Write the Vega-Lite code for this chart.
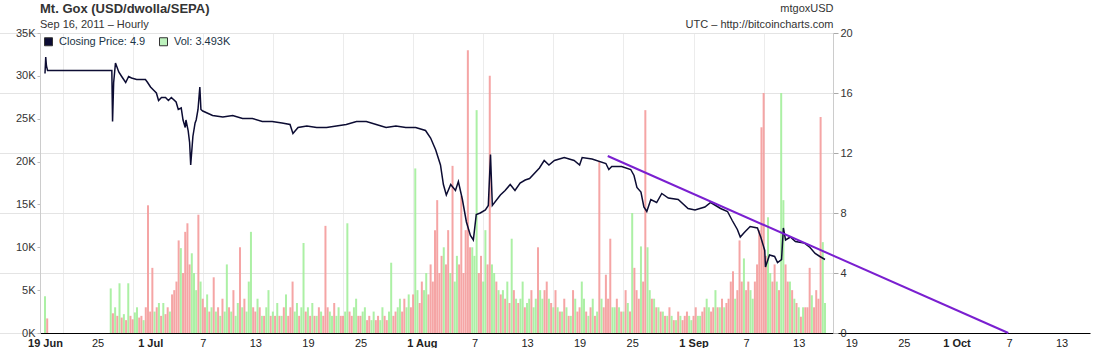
{
  "$schema": "https://vega.github.io/schema/vega-lite/v6.json",
  "width": 793,
  "height": 300,
  "autosize": {"type": "none"},
  "padding": {"left": 40, "top": 33, "right": 273, "bottom": 15},
  "background": "white",
  "config": {
    "font": "Liberation Sans",
    "view": {"stroke": "#d4d4d4"},
    "axis": {"labelFont": "Liberation Sans", "titleFont": "Liberation Sans"}
  },
  "title": {
    "text": "Mt. Gox (USD/dwolla/SEPA)",
    "subtitle": "Sep 16, 2011 – Hourly",
    "anchor": "start",
    "frame": "group",
    "fontSize": 13,
    "fontWeight": "bold",
    "color": "#333333",
    "subtitleFontSize": 11,
    "subtitleColor": "#333333",
    "subtitlePadding": 3,
    "offset": 2,
    "dy": 30
  },
  "datasets": {
    "vol": [
      {"t":"2011-06-19T00:00","v":4.3,"d":"u"},{"t":"2011-06-19T06:00","v":1.7,"d":"d"},
      {"t":"2011-06-26T12:00","v":5.2,"d":"u"},{"t":"2011-06-26T18:00","v":2.3,"d":"d"},
      {"t":"2011-06-27T00:00","v":3.0,"d":"u"},{"t":"2011-06-27T06:00","v":2.0,"d":"d"},{"t":"2011-06-27T12:00","v":5.8,"d":"u"},{"t":"2011-06-27T18:00","v":1.8,"d":"d"},
      {"t":"2011-06-28T00:00","v":2.2,"d":"u"},{"t":"2011-06-28T06:00","v":1.5,"d":"d"},{"t":"2011-06-28T12:00","v":5.8,"d":"u"},{"t":"2011-06-28T18:00","v":2.0,"d":"d"},
      {"t":"2011-06-29T00:00","v":1.6,"d":"d"},{"t":"2011-06-29T06:00","v":2.4,"d":"u"},{"t":"2011-06-29T12:00","v":3.0,"d":"u"},{"t":"2011-06-29T18:00","v":1.8,"d":"d"},
      {"t":"2011-06-30T00:00","v":2.0,"d":"d"},{"t":"2011-06-30T06:00","v":1.5,"d":"u"},{"t":"2011-06-30T12:00","v":3.0,"d":"d"},{"t":"2011-06-30T18:00","v":14.9,"d":"d"},
      {"t":"2011-07-01T00:00","v":2.5,"d":"d"},{"t":"2011-07-01T06:00","v":7.6,"d":"d"},{"t":"2011-07-01T12:00","v":2.5,"d":"u"},{"t":"2011-07-01T18:00","v":3.0,"d":"d"},
      {"t":"2011-07-02T00:00","v":3.5,"d":"u"},{"t":"2011-07-02T06:00","v":2.0,"d":"d"},{"t":"2011-07-02T12:00","v":3.5,"d":"u"},{"t":"2011-07-02T18:00","v":2.2,"d":"d"},
      {"t":"2011-07-03T00:00","v":3.0,"d":"d"},{"t":"2011-07-03T06:00","v":2.5,"d":"u"},{"t":"2011-07-03T12:00","v":4.5,"d":"d"},{"t":"2011-07-03T18:00","v":5.0,"d":"d"},
      {"t":"2011-07-04T00:00","v":6.0,"d":"d"},{"t":"2011-07-04T06:00","v":10.8,"d":"d"},{"t":"2011-07-04T12:00","v":9.9,"d":"u"},{"t":"2011-07-04T18:00","v":7.0,"d":"d"},
      {"t":"2011-07-05T00:00","v":11.8,"d":"d"},{"t":"2011-07-05T06:00","v":12.8,"d":"d"},{"t":"2011-07-05T12:00","v":8.0,"d":"d"},{"t":"2011-07-05T18:00","v":9.3,"d":"u"},
      {"t":"2011-07-06T00:00","v":7.0,"d":"u"},{"t":"2011-07-06T06:00","v":5.0,"d":"u"},{"t":"2011-07-06T12:00","v":13.8,"d":"d"},{"t":"2011-07-06T18:00","v":6.0,"d":"u"},
      {"t":"2011-07-07T00:00","v":4.0,"d":"d"},{"t":"2011-07-07T06:00","v":3.0,"d":"d"},{"t":"2011-07-07T12:00","v":4.5,"d":"u"},{"t":"2011-07-07T18:00","v":2.5,"d":"d"},
      {"t":"2011-07-08T00:00","v":3.0,"d":"u"},{"t":"2011-07-08T06:00","v":6.5,"d":"d"},{"t":"2011-07-08T12:00","v":2.5,"d":"u"},{"t":"2011-07-08T18:00","v":3.0,"d":"d"},
      {"t":"2011-07-09T00:00","v":2.0,"d":"u"},{"t":"2011-07-09T06:00","v":4.0,"d":"d"},{"t":"2011-07-09T12:00","v":2.5,"d":"u"},{"t":"2011-07-09T18:00","v":8.0,"d":"u"},
      {"t":"2011-07-10T00:00","v":3.0,"d":"d"},{"t":"2011-07-10T06:00","v":2.5,"d":"u"},{"t":"2011-07-10T12:00","v":5.0,"d":"d"},{"t":"2011-07-10T18:00","v":2.0,"d":"u"},
      {"t":"2011-07-11T00:00","v":3.5,"d":"u"},{"t":"2011-07-11T06:00","v":10.0,"d":"d"},{"t":"2011-07-11T12:00","v":3.0,"d":"u"},{"t":"2011-07-11T18:00","v":4.0,"d":"d"},
      {"t":"2011-07-12T00:00","v":2.5,"d":"u"},{"t":"2011-07-12T06:00","v":6.0,"d":"u"},{"t":"2011-07-12T12:00","v":11.8,"d":"u"},{"t":"2011-07-12T18:00","v":3.0,"d":"d"},
      {"t":"2011-07-13T00:00","v":2.5,"d":"d"},{"t":"2011-07-13T06:00","v":4.0,"d":"u"},{"t":"2011-07-13T12:00","v":3.0,"d":"d"},{"t":"2011-07-13T18:00","v":2.0,"d":"u"},
      {"t":"2011-07-14T00:00","v":2.0,"d":"d"},{"t":"2011-07-14T06:00","v":3.0,"d":"u"},{"t":"2011-07-14T12:00","v":5.0,"d":"u"},{"t":"2011-07-14T18:00","v":2.0,"d":"d"},
      {"t":"2011-07-15T00:00","v":2.5,"d":"u"},{"t":"2011-07-15T06:00","v":2.0,"d":"d"},{"t":"2011-07-15T12:00","v":3.5,"d":"u"},{"t":"2011-07-15T18:00","v":2.0,"d":"d"},
      {"t":"2011-07-16T00:00","v":2.0,"d":"u"},{"t":"2011-07-16T06:00","v":3.0,"d":"d"},{"t":"2011-07-16T12:00","v":4.5,"d":"u"},{"t":"2011-07-16T18:00","v":2.0,"d":"d"},
      {"t":"2011-07-17T00:00","v":3.0,"d":"d"},{"t":"2011-07-17T06:00","v":6.0,"d":"d"},{"t":"2011-07-17T12:00","v":2.5,"d":"u"},{"t":"2011-07-17T18:00","v":3.5,"d":"u"},
      {"t":"2011-07-18T00:00","v":2.0,"d":"d"},{"t":"2011-07-18T06:00","v":3.0,"d":"u"},{"t":"2011-07-18T12:00","v":10.5,"d":"u"},{"t":"2011-07-18T18:00","v":2.5,"d":"d"},
      {"t":"2011-07-19T00:00","v":3.0,"d":"u"},{"t":"2011-07-19T06:00","v":2.0,"d":"d"},{"t":"2011-07-19T12:00","v":3.5,"d":"u"},{"t":"2011-07-19T18:00","v":2.0,"d":"d"},
      {"t":"2011-07-20T00:00","v":2.0,"d":"u"},{"t":"2011-07-20T06:00","v":3.0,"d":"d"},{"t":"2011-07-20T12:00","v":2.5,"d":"u"},{"t":"2011-07-20T18:00","v":2.0,"d":"d"},
      {"t":"2011-07-21T00:00","v":12.5,"d":"d"},{"t":"2011-07-21T06:00","v":3.0,"d":"d"},{"t":"2011-07-21T12:00","v":2.5,"d":"u"},{"t":"2011-07-21T18:00","v":2.0,"d":"u"},
      {"t":"2011-07-22T00:00","v":3.5,"d":"d"},{"t":"2011-07-22T06:00","v":2.0,"d":"u"},{"t":"2011-07-22T12:00","v":3.0,"d":"u"},{"t":"2011-07-22T18:00","v":2.0,"d":"d"},
      {"t":"2011-07-23T00:00","v":2.0,"d":"d"},{"t":"2011-07-23T06:00","v":2.5,"d":"u"},{"t":"2011-07-23T12:00","v":12.8,"d":"u"},{"t":"2011-07-23T18:00","v":2.5,"d":"d"},
      {"t":"2011-07-24T00:00","v":2.0,"d":"d"},{"t":"2011-07-24T06:00","v":3.0,"d":"u"},{"t":"2011-07-24T12:00","v":4.0,"d":"u"},{"t":"2011-07-24T18:00","v":2.0,"d":"d"},
      {"t":"2011-07-25T00:00","v":2.0,"d":"d"},{"t":"2011-07-25T06:00","v":2.5,"d":"u"},{"t":"2011-07-25T12:00","v":3.0,"d":"u"},{"t":"2011-07-25T18:00","v":1.5,"d":"d"},
      {"t":"2011-07-26T00:00","v":2.0,"d":"d"},{"t":"2011-07-26T06:00","v":1.5,"d":"u"},{"t":"2011-07-26T12:00","v":2.5,"d":"u"},{"t":"2011-07-26T18:00","v":1.5,"d":"d"},
      {"t":"2011-07-27T00:00","v":2.0,"d":"d"},{"t":"2011-07-27T06:00","v":1.5,"d":"u"},{"t":"2011-07-27T12:00","v":3.0,"d":"u"},{"t":"2011-07-27T18:00","v":2.0,"d":"d"},
      {"t":"2011-07-28T00:00","v":1.5,"d":"d"},{"t":"2011-07-28T06:00","v":2.5,"d":"u"},{"t":"2011-07-28T12:00","v":8.2,"d":"u"},{"t":"2011-07-28T18:00","v":2.0,"d":"d"},
      {"t":"2011-07-29T00:00","v":2.5,"d":"d"},{"t":"2011-07-29T06:00","v":3.0,"d":"u"},{"t":"2011-07-29T12:00","v":4.0,"d":"u"},{"t":"2011-07-29T18:00","v":2.5,"d":"d"},
      {"t":"2011-07-30T00:00","v":4.0,"d":"d"},{"t":"2011-07-30T06:00","v":3.0,"d":"u"},{"t":"2011-07-30T12:00","v":4.5,"d":"u"},{"t":"2011-07-30T18:00","v":3.0,"d":"d"},
      {"t":"2011-07-31T00:00","v":4.5,"d":"d"},{"t":"2011-07-31T06:00","v":19.2,"d":"u"},{"t":"2011-07-31T12:00","v":5.0,"d":"u"},{"t":"2011-07-31T18:00","v":3.5,"d":"d"},
      {"t":"2011-08-01T00:00","v":6.0,"d":"d"},{"t":"2011-08-01T06:00","v":5.0,"d":"u"},{"t":"2011-08-01T12:00","v":7.0,"d":"u"},{"t":"2011-08-01T18:00","v":4.5,"d":"d"},
      {"t":"2011-08-02T00:00","v":8.0,"d":"d"},{"t":"2011-08-02T06:00","v":6.0,"d":"d"},{"t":"2011-08-02T12:00","v":12.0,"d":"d"},{"t":"2011-08-02T18:00","v":15.5,"d":"d"},
      {"t":"2011-08-03T00:00","v":7.0,"d":"d"},{"t":"2011-08-03T06:00","v":9.0,"d":"d"},{"t":"2011-08-03T12:00","v":10.0,"d":"u"},{"t":"2011-08-03T18:00","v":8.0,"d":"d"},
      {"t":"2011-08-04T00:00","v":12.0,"d":"d"},{"t":"2011-08-04T06:00","v":7.0,"d":"u"},{"t":"2011-08-04T12:00","v":19.5,"d":"d"},{"t":"2011-08-04T18:00","v":6.0,"d":"u"},
      {"t":"2011-08-05T00:00","v":9.0,"d":"u"},{"t":"2011-08-05T06:00","v":8.0,"d":"d"},{"t":"2011-08-05T12:00","v":16.0,"d":"d"},{"t":"2011-08-05T18:00","v":7.0,"d":"d"},
      {"t":"2011-08-06T00:00","v":12.0,"d":"d"},{"t":"2011-08-06T06:00","v":33.0,"d":"d"},{"t":"2011-08-06T12:00","v":10.0,"d":"d"},{"t":"2011-08-06T18:00","v":10.0,"d":"u"},
      {"t":"2011-08-07T00:00","v":9.0,"d":"u"},{"t":"2011-08-07T06:00","v":26.0,"d":"u"},{"t":"2011-08-07T12:00","v":7.0,"d":"d"},{"t":"2011-08-07T18:00","v":9.0,"d":"d"},
      {"t":"2011-08-08T00:00","v":6.0,"d":"u"},{"t":"2011-08-08T06:00","v":12.0,"d":"u"},{"t":"2011-08-08T12:00","v":8.0,"d":"d"},{"t":"2011-08-08T18:00","v":30.0,"d":"d"},
      {"t":"2011-08-09T00:00","v":8.0,"d":"u"},{"t":"2011-08-09T06:00","v":7.0,"d":"u"},{"t":"2011-08-09T12:00","v":6.0,"d":"d"},{"t":"2011-08-09T18:00","v":5.0,"d":"u"},
      {"t":"2011-08-10T00:00","v":4.5,"d":"d"},{"t":"2011-08-10T06:00","v":5.0,"d":"u"},{"t":"2011-08-10T12:00","v":4.0,"d":"d"},{"t":"2011-08-10T18:00","v":6.0,"d":"u"},
      {"t":"2011-08-11T00:00","v":3.5,"d":"d"},{"t":"2011-08-11T06:00","v":11.0,"d":"u"},{"t":"2011-08-11T12:00","v":5.0,"d":"d"},{"t":"2011-08-11T18:00","v":4.0,"d":"u"},
      {"t":"2011-08-12T00:00","v":3.5,"d":"d"},{"t":"2011-08-12T06:00","v":4.0,"d":"u"},{"t":"2011-08-12T12:00","v":6.0,"d":"u"},{"t":"2011-08-12T18:00","v":3.0,"d":"d"},
      {"t":"2011-08-13T00:00","v":3.5,"d":"u"},{"t":"2011-08-13T06:00","v":4.0,"d":"u"},{"t":"2011-08-13T12:00","v":5.0,"d":"d"},{"t":"2011-08-13T18:00","v":3.0,"d":"u"},
      {"t":"2011-08-14T00:00","v":4.0,"d":"u"},{"t":"2011-08-14T06:00","v":10.0,"d":"d"},{"t":"2011-08-14T12:00","v":5.0,"d":"u"},{"t":"2011-08-14T18:00","v":4.0,"d":"u"},
      {"t":"2011-08-15T00:00","v":5.0,"d":"d"},{"t":"2011-08-15T06:00","v":6.0,"d":"d"},{"t":"2011-08-15T12:00","v":4.0,"d":"u"},{"t":"2011-08-15T18:00","v":3.5,"d":"d"},
      {"t":"2011-08-16T00:00","v":3.0,"d":"u"},{"t":"2011-08-16T06:00","v":5.0,"d":"d"},{"t":"2011-08-16T12:00","v":3.0,"d":"u"},{"t":"2011-08-16T18:00","v":2.5,"d":"d"},
      {"t":"2011-08-17T00:00","v":2.5,"d":"u"},{"t":"2011-08-17T06:00","v":4.0,"d":"d"},{"t":"2011-08-17T12:00","v":3.0,"d":"u"},{"t":"2011-08-17T18:00","v":2.0,"d":"d"},
      {"t":"2011-08-18T00:00","v":2.0,"d":"u"},{"t":"2011-08-18T06:00","v":5.0,"d":"d"},{"t":"2011-08-18T12:00","v":4.0,"d":"u"},{"t":"2011-08-18T18:00","v":2.5,"d":"d"},
      {"t":"2011-08-19T00:00","v":3.0,"d":"d"},{"t":"2011-08-19T06:00","v":6.0,"d":"u"},{"t":"2011-08-19T12:00","v":4.0,"d":"u"},{"t":"2011-08-19T18:00","v":2.5,"d":"d"},
      {"t":"2011-08-20T00:00","v":2.0,"d":"u"},{"t":"2011-08-20T06:00","v":3.0,"d":"d"},{"t":"2011-08-20T12:00","v":4.0,"d":"u"},{"t":"2011-08-20T18:00","v":2.0,"d":"d"},
      {"t":"2011-08-21T00:00","v":2.5,"d":"u"},{"t":"2011-08-21T06:00","v":20.0,"d":"d"},{"t":"2011-08-21T12:00","v":4.0,"d":"u"},{"t":"2011-08-21T18:00","v":3.0,"d":"d"},
      {"t":"2011-08-22T00:00","v":6.8,"d":"d"},{"t":"2011-08-22T06:00","v":4.0,"d":"d"},{"t":"2011-08-22T12:00","v":11.0,"d":"d"},{"t":"2011-08-22T18:00","v":3.0,"d":"u"},
      {"t":"2011-08-23T00:00","v":3.0,"d":"u"},{"t":"2011-08-23T06:00","v":4.0,"d":"d"},{"t":"2011-08-23T12:00","v":3.0,"d":"u"},{"t":"2011-08-23T18:00","v":2.5,"d":"d"},
      {"t":"2011-08-24T00:00","v":2.5,"d":"u"},{"t":"2011-08-24T06:00","v":5.0,"d":"d"},{"t":"2011-08-24T12:00","v":3.5,"d":"u"},{"t":"2011-08-24T18:00","v":2.5,"d":"d"},
      {"t":"2011-08-25T00:00","v":14.0,"d":"u"},{"t":"2011-08-25T06:00","v":7.6,"d":"d"},{"t":"2011-08-25T12:00","v":5.0,"d":"d"},{"t":"2011-08-25T18:00","v":4.0,"d":"d"},
      {"t":"2011-08-26T00:00","v":10.1,"d":"u"},{"t":"2011-08-26T06:00","v":6.0,"d":"d"},{"t":"2011-08-26T12:00","v":26.0,"d":"d"},{"t":"2011-08-26T18:00","v":10.0,"d":"u"},
      {"t":"2011-08-27T00:00","v":5.0,"d":"u"},{"t":"2011-08-27T06:00","v":4.0,"d":"d"},{"t":"2011-08-27T12:00","v":4.0,"d":"u"},{"t":"2011-08-27T18:00","v":3.0,"d":"d"},
      {"t":"2011-08-28T00:00","v":3.0,"d":"u"},{"t":"2011-08-28T06:00","v":2.5,"d":"d"},{"t":"2011-08-28T12:00","v":2.5,"d":"u"},{"t":"2011-08-28T18:00","v":2.0,"d":"d"},
      {"t":"2011-08-29T00:00","v":2.0,"d":"u"},{"t":"2011-08-29T06:00","v":3.0,"d":"d"},{"t":"2011-08-29T12:00","v":2.0,"d":"u"},{"t":"2011-08-29T18:00","v":1.5,"d":"d"},
      {"t":"2011-08-30T00:00","v":1.5,"d":"u"},{"t":"2011-08-30T06:00","v":2.5,"d":"d"},{"t":"2011-08-30T12:00","v":2.0,"d":"u"},{"t":"2011-08-30T18:00","v":1.5,"d":"d"},
      {"t":"2011-08-31T00:00","v":2.0,"d":"d"},{"t":"2011-08-31T06:00","v":2.5,"d":"d"},{"t":"2011-08-31T12:00","v":2.0,"d":"u"},{"t":"2011-08-31T18:00","v":1.5,"d":"u"},
      {"t":"2011-09-01T00:00","v":2.0,"d":"d"},{"t":"2011-09-01T06:00","v":3.0,"d":"d"},{"t":"2011-09-01T12:00","v":2.0,"d":"u"},{"t":"2011-09-01T18:00","v":2.0,"d":"u"},
      {"t":"2011-09-02T00:00","v":2.5,"d":"d"},{"t":"2011-09-02T06:00","v":3.0,"d":"d"},{"t":"2011-09-02T12:00","v":4.0,"d":"u"},{"t":"2011-09-02T18:00","v":3.0,"d":"u"},
      {"t":"2011-09-03T00:00","v":2.5,"d":"d"},{"t":"2011-09-03T06:00","v":3.0,"d":"d"},{"t":"2011-09-03T12:00","v":5.0,"d":"u"},{"t":"2011-09-03T18:00","v":3.0,"d":"d"},
      {"t":"2011-09-04T00:00","v":3.0,"d":"u"},{"t":"2011-09-04T06:00","v":4.0,"d":"d"},{"t":"2011-09-04T12:00","v":3.0,"d":"u"},{"t":"2011-09-04T18:00","v":3.5,"d":"d"},
      {"t":"2011-09-05T00:00","v":4.0,"d":"d"},{"t":"2011-09-05T06:00","v":6.0,"d":"d"},{"t":"2011-09-05T12:00","v":7.2,"d":"d"},{"t":"2011-09-05T18:00","v":4.0,"d":"u"},
      {"t":"2011-09-06T00:00","v":5.0,"d":"d"},{"t":"2011-09-06T06:00","v":10.8,"d":"d"},{"t":"2011-09-06T12:00","v":6.0,"d":"d"},{"t":"2011-09-06T18:00","v":8.7,"d":"u"},
      {"t":"2011-09-07T00:00","v":5.0,"d":"d"},{"t":"2011-09-07T06:00","v":6.0,"d":"d"},{"t":"2011-09-07T12:00","v":5.0,"d":"u"},{"t":"2011-09-07T18:00","v":4.0,"d":"u"},
      {"t":"2011-09-08T00:00","v":6.0,"d":"d"},{"t":"2011-09-08T06:00","v":8.0,"d":"d"},{"t":"2011-09-08T12:00","v":12.0,"d":"d"},{"t":"2011-09-08T18:00","v":24.0,"d":"d"},
      {"t":"2011-09-09T00:00","v":28.0,"d":"d"},{"t":"2011-09-09T06:00","v":9.0,"d":"d"},{"t":"2011-09-09T12:00","v":13.5,"d":"u"},{"t":"2011-09-09T18:00","v":7.0,"d":"u"},
      {"t":"2011-09-10T00:00","v":6.0,"d":"d"},{"t":"2011-09-10T06:00","v":8.0,"d":"d"},{"t":"2011-09-10T12:00","v":6.0,"d":"u"},{"t":"2011-09-10T18:00","v":5.0,"d":"d"},
      {"t":"2011-09-11T00:00","v":28.0,"d":"u"},{"t":"2011-09-11T06:00","v":15.5,"d":"u"},{"t":"2011-09-11T12:00","v":8.0,"d":"d"},{"t":"2011-09-11T18:00","v":6.0,"d":"d"},
      {"t":"2011-09-12T00:00","v":6.0,"d":"u"},{"t":"2011-09-12T06:00","v":5.0,"d":"d"},{"t":"2011-09-12T12:00","v":4.0,"d":"u"},{"t":"2011-09-12T18:00","v":3.5,"d":"d"},
      {"t":"2011-09-13T00:00","v":3.0,"d":"u"},{"t":"2011-09-13T06:00","v":1.9,"d":"d"},{"t":"2011-09-13T12:00","v":3.0,"d":"u"},{"t":"2011-09-13T18:00","v":3.0,"d":"d"},
      {"t":"2011-09-14T00:00","v":3.0,"d":"d"},{"t":"2011-09-14T06:00","v":7.6,"d":"d"},{"t":"2011-09-14T12:00","v":4.4,"d":"u"},{"t":"2011-09-14T18:00","v":3.0,"d":"d"},
      {"t":"2011-09-15T00:00","v":5.0,"d":"d"},{"t":"2011-09-15T06:00","v":4.0,"d":"d"},{"t":"2011-09-15T12:00","v":25.2,"d":"d"},{"t":"2011-09-15T18:00","v":10.6,"d":"u"},
      {"t":"2011-09-16T00:00","v":3.5,"d":"u"}
    ],
    "price": [
      {"t": "2011-06-19T00:00", "p": 17.3},
      {"t": "2011-06-19T02:00", "p": 18.4},
      {"t": "2011-06-19T04:00", "p": 17.8},
      {"t": "2011-06-19T07:00", "p": 17.5},
      {"t": "2011-06-26T15:00", "p": 17.5},
      {"t": "2011-06-26T17:00", "p": 14.1},
      {"t": "2011-06-26T20:00", "p": 16.7},
      {"t": "2011-06-27T01:00", "p": 18.0},
      {"t": "2011-06-27T10:00", "p": 17.4},
      {"t": "2011-06-27T18:00", "p": 17.1},
      {"t": "2011-06-28T05:00", "p": 16.7},
      {"t": "2011-06-28T13:00", "p": 17.1},
      {"t": "2011-06-28T21:00", "p": 17.0},
      {"t": "2011-06-29T11:00", "p": 16.9},
      {"t": "2011-06-29T22:00", "p": 16.9},
      {"t": "2011-06-30T11:00", "p": 16.9},
      {"t": "2011-06-30T17:00", "p": 16.7},
      {"t": "2011-07-01T01:00", "p": 16.4},
      {"t": "2011-07-01T09:00", "p": 16.2},
      {"t": "2011-07-01T17:00", "p": 16.0},
      {"t": "2011-07-01T23:00", "p": 15.5},
      {"t": "2011-07-02T07:00", "p": 15.7},
      {"t": "2011-07-02T18:00", "p": 15.7},
      {"t": "2011-07-03T02:00", "p": 15.5},
      {"t": "2011-07-03T10:00", "p": 15.7},
      {"t": "2011-07-03T23:00", "p": 15.4},
      {"t": "2011-07-04T05:00", "p": 14.9},
      {"t": "2011-07-04T13:00", "p": 15.0},
      {"t": "2011-07-04T18:00", "p": 14.2},
      {"t": "2011-07-05T00:00", "p": 13.7},
      {"t": "2011-07-05T02:00", "p": 14.2},
      {"t": "2011-07-05T08:00", "p": 13.5},
      {"t": "2011-07-05T12:00", "p": 12.7},
      {"t": "2011-07-05T15:00", "p": 11.2},
      {"t": "2011-07-05T21:00", "p": 13.1},
      {"t": "2011-07-06T03:00", "p": 14.0},
      {"t": "2011-07-06T06:00", "p": 14.2},
      {"t": "2011-07-06T11:00", "p": 14.9},
      {"t": "2011-07-06T16:00", "p": 16.4},
      {"t": "2011-07-06T19:00", "p": 14.9},
      {"t": "2011-07-07T00:00", "p": 14.8},
      {"t": "2011-07-08T03:00", "p": 14.5},
      {"t": "2011-07-09T07:00", "p": 14.4},
      {"t": "2011-07-10T10:00", "p": 14.5},
      {"t": "2011-07-11T13:00", "p": 14.3},
      {"t": "2011-07-12T16:00", "p": 14.3},
      {"t": "2011-07-13T19:00", "p": 14.1},
      {"t": "2011-07-14T22:00", "p": 14.1},
      {"t": "2011-07-16T01:00", "p": 14.0},
      {"t": "2011-07-16T23:00", "p": 13.9},
      {"t": "2011-07-17T07:00", "p": 13.3},
      {"t": "2011-07-17T21:00", "p": 13.7},
      {"t": "2011-07-18T21:00", "p": 13.8},
      {"t": "2011-07-20T00:00", "p": 13.7},
      {"t": "2011-07-21T03:00", "p": 13.7},
      {"t": "2011-07-22T06:00", "p": 13.8},
      {"t": "2011-07-23T09:00", "p": 13.9},
      {"t": "2011-07-24T13:00", "p": 14.1},
      {"t": "2011-07-25T16:00", "p": 14.1},
      {"t": "2011-07-26T19:00", "p": 13.9},
      {"t": "2011-07-27T22:00", "p": 13.7},
      {"t": "2011-07-29T01:00", "p": 13.8},
      {"t": "2011-07-30T04:00", "p": 13.7},
      {"t": "2011-07-31T07:00", "p": 13.7},
      {"t": "2011-08-01T10:00", "p": 13.5},
      {"t": "2011-08-02T00:00", "p": 13.0},
      {"t": "2011-08-02T14:00", "p": 12.2},
      {"t": "2011-08-03T03:00", "p": 11.2},
      {"t": "2011-08-03T11:00", "p": 9.9},
      {"t": "2011-08-03T19:00", "p": 9.2},
      {"t": "2011-08-04T07:00", "p": 9.9},
      {"t": "2011-08-04T20:00", "p": 9.5},
      {"t": "2011-08-05T04:00", "p": 10.1},
      {"t": "2011-08-05T15:00", "p": 8.9},
      {"t": "2011-08-06T02:00", "p": 7.4},
      {"t": "2011-08-06T13:00", "p": 6.5},
      {"t": "2011-08-06T21:00", "p": 6.2},
      {"t": "2011-08-07T05:00", "p": 7.9},
      {"t": "2011-08-07T16:00", "p": 8.0},
      {"t": "2011-08-08T06:00", "p": 8.2},
      {"t": "2011-08-08T14:00", "p": 8.5},
      {"t": "2011-08-08T20:00", "p": 11.9},
      {"t": "2011-08-09T01:00", "p": 8.5},
      {"t": "2011-08-09T23:00", "p": 9.2},
      {"t": "2011-08-10T12:00", "p": 9.5},
      {"t": "2011-08-11T02:00", "p": 9.9},
      {"t": "2011-08-11T15:00", "p": 9.5},
      {"t": "2011-08-12T05:00", "p": 10.0},
      {"t": "2011-08-12T19:00", "p": 10.2},
      {"t": "2011-08-13T07:00", "p": 10.3},
      {"t": "2011-08-14T10:00", "p": 11.0},
      {"t": "2011-08-14T23:00", "p": 11.5},
      {"t": "2011-08-15T12:00", "p": 11.2},
      {"t": "2011-08-16T03:00", "p": 11.5},
      {"t": "2011-08-17T06:00", "p": 11.7},
      {"t": "2011-08-18T09:00", "p": 11.5},
      {"t": "2011-08-19T00:00", "p": 11.2},
      {"t": "2011-08-19T07:00", "p": 11.7},
      {"t": "2011-08-20T10:00", "p": 11.6},
      {"t": "2011-08-22T00:00", "p": 11.3},
      {"t": "2011-08-22T08:00", "p": 10.9},
      {"t": "2011-08-22T16:00", "p": 11.1},
      {"t": "2011-08-23T19:00", "p": 11.1},
      {"t": "2011-08-24T20:00", "p": 10.9},
      {"t": "2011-08-25T05:00", "p": 10.5},
      {"t": "2011-08-25T13:00", "p": 9.7},
      {"t": "2011-08-26T00:00", "p": 9.4},
      {"t": "2011-08-26T08:00", "p": 8.4},
      {"t": "2011-08-26T16:00", "p": 8.1},
      {"t": "2011-08-27T03:00", "p": 8.9},
      {"t": "2011-08-27T19:00", "p": 8.7},
      {"t": "2011-08-28T09:00", "p": 9.3},
      {"t": "2011-08-29T03:00", "p": 9.0},
      {"t": "2011-08-30T06:00", "p": 8.9},
      {"t": "2011-08-31T09:00", "p": 8.3},
      {"t": "2011-09-01T04:00", "p": 8.2},
      {"t": "2011-09-02T07:00", "p": 8.4},
      {"t": "2011-09-02T23:00", "p": 8.7},
      {"t": "2011-09-04T02:00", "p": 8.3},
      {"t": "2011-09-04T21:00", "p": 8.1},
      {"t": "2011-09-05T10:00", "p": 7.5},
      {"t": "2011-09-06T00:00", "p": 6.9},
      {"t": "2011-09-06T08:00", "p": 6.4},
      {"t": "2011-09-06T19:00", "p": 6.7},
      {"t": "2011-09-07T11:00", "p": 7.1},
      {"t": "2011-09-08T07:00", "p": 7.0},
      {"t": "2011-09-08T16:00", "p": 6.4},
      {"t": "2011-09-09T03:00", "p": 5.5},
      {"t": "2011-09-09T05:00", "p": 4.4},
      {"t": "2011-09-09T16:00", "p": 5.2},
      {"t": "2011-09-10T06:00", "p": 5.1},
      {"t": "2011-09-10T14:00", "p": 4.7},
      {"t": "2011-09-11T01:00", "p": 4.9},
      {"t": "2011-09-11T06:00", "p": 7.0},
      {"t": "2011-09-11T12:00", "p": 6.2},
      {"t": "2011-09-12T01:00", "p": 6.4},
      {"t": "2011-09-12T15:00", "p": 6.1},
      {"t": "2011-09-13T15:00", "p": 6.0},
      {"t": "2011-09-14T07:00", "p": 5.7},
      {"t": "2011-09-14T21:00", "p": 5.3},
      {"t": "2011-09-15T10:00", "p": 5.1},
      {"t": "2011-09-16T00:00", "p": 4.9}
    ],
    "trend": [
      {"t": "2011-08-22T05:00", "p": 11.8},
      {"t": "2011-10-06T22:00", "p": 0}
    ],
    "legend": [
      {"series": "Closing Price: 4.9"},
      {"series": "Vol: 3.493K"}
    ]
  },
  "layer": [
    {
      "data": {"name": "vol"},
      "mark": {"type": "bar", "width": 2, "opacity": 0.9},
      "encoding": {
        "x": {
          "field": "t", "type": "temporal",
          "scale": {"domain": [{"year": 2011, "month": 6, "date": 19}, {"year": 2011, "month": 10, "date": 15, "hours": 16}], "range": [0, 1050]},
          "axis": {
            "orient": "bottom", "title": null, "grid": false, "ticks": false,
            "domainColor": "#000000", "domainWidth": 1.2,
            "labelFontSize": 11, "labelColor": "#222222", "labelPadding": 4, "labelFlush": false, "labelOverlap": false,
            "values": [
              {"year": 2011, "month": 6, "date": 19}, {"year": 2011, "month": 6, "date": 25},
              {"year": 2011, "month": 7, "date": 1}, {"year": 2011, "month": 7, "date": 7},
              {"year": 2011, "month": 7, "date": 13}, {"year": 2011, "month": 7, "date": 19},
              {"year": 2011, "month": 7, "date": 25}, {"year": 2011, "month": 8, "date": 1},
              {"year": 2011, "month": 8, "date": 7}, {"year": 2011, "month": 8, "date": 13},
              {"year": 2011, "month": 8, "date": 19}, {"year": 2011, "month": 8, "date": 25},
              {"year": 2011, "month": 9, "date": 1}, {"year": 2011, "month": 9, "date": 7},
              {"year": 2011, "month": 9, "date": 13}, {"year": 2011, "month": 9, "date": 19},
              {"year": 2011, "month": 9, "date": 25}, {"year": 2011, "month": 10, "date": 1},
              {"year": 2011, "month": 10, "date": 7}, {"year": 2011, "month": 10, "date": 13}
            ],
            "labelExpr": "date(datum.value) == 1 || (month(datum.value) == 5 && date(datum.value) == 19) ? timeFormat(datum.value, '%-d %b') : timeFormat(datum.value, '%-d')",
            "labelFontWeight": {"condition": {"test": "date(datum.value) == 1 || (month(datum.value) == 5 && date(datum.value) == 19)", "value": "bold"}, "value": "normal"}
          }
        },
        "y": {
          "field": "v", "type": "quantitative",
          "scale": {"domain": [0, 35], "nice": false},
          "axis": {
            "orient": "left", "title": null, "grid": false,
            "values": [0, 5, 10, 15, 20, 25, 30, 35],
            "labelExpr": "datum.value + 'K'",
            "tickSize": 3, "tickColor": "#bbbbbb", "domainColor": "#cccccc",
            "labelFontSize": 11, "labelColor": "#333333", "labelPadding": 2
          }
        },
        "color": {
          "field": "d", "type": "nominal",
          "scale": {"domain": ["u", "d"], "range": ["#a3ee9b", "#f49b9b"]},
          "legend": null
        }
      }
    },
    {
      "layer": [
        {
          "data": {"name": "price"},
          "mark": {"type": "line", "color": "#0c0c33", "strokeWidth": 1.5},
          "encoding": {
            "x": {
              "field": "t", "type": "temporal",
              "scale": {"domain": [{"year": 2011, "month": 6, "date": 19}, {"year": 2011, "month": 10, "date": 15, "hours": 16}], "range": [0, 1050]},
              "axis": {
                "orient": "top", "grid": true, "gridColor": "#ececec", "labels": false, "ticks": false, "domain": false,
                "values": [
                  {"year": 2011, "month": 6, "date": 21}, {"year": 2011, "month": 6, "date": 23}, {"year": 2011, "month": 6, "date": 25},
                  {"year": 2011, "month": 6, "date": 27}, {"year": 2011, "month": 6, "date": 29}, {"year": 2011, "month": 7, "date": 1},
                  {"year": 2011, "month": 7, "date": 3}, {"year": 2011, "month": 7, "date": 5}, {"year": 2011, "month": 7, "date": 7},
                  {"year": 2011, "month": 7, "date": 9}, {"year": 2011, "month": 7, "date": 11}, {"year": 2011, "month": 7, "date": 13},
                  {"year": 2011, "month": 7, "date": 15}, {"year": 2011, "month": 7, "date": 17}, {"year": 2011, "month": 7, "date": 19},
                  {"year": 2011, "month": 7, "date": 21}, {"year": 2011, "month": 7, "date": 23}, {"year": 2011, "month": 7, "date": 25},
                  {"year": 2011, "month": 7, "date": 27}, {"year": 2011, "month": 7, "date": 29}, {"year": 2011, "month": 7, "date": 31},
                  {"year": 2011, "month": 8, "date": 2}, {"year": 2011, "month": 8, "date": 4}, {"year": 2011, "month": 8, "date": 6},
                  {"year": 2011, "month": 8, "date": 8}, {"year": 2011, "month": 8, "date": 10}, {"year": 2011, "month": 8, "date": 12},
                  {"year": 2011, "month": 8, "date": 14}, {"year": 2011, "month": 8, "date": 16}, {"year": 2011, "month": 8, "date": 18},
                  {"year": 2011, "month": 8, "date": 20}, {"year": 2011, "month": 8, "date": 22}, {"year": 2011, "month": 8, "date": 24},
                  {"year": 2011, "month": 8, "date": 26}, {"year": 2011, "month": 8, "date": 28}, {"year": 2011, "month": 8, "date": 30},
                  {"year": 2011, "month": 9, "date": 1}, {"year": 2011, "month": 9, "date": 3}, {"year": 2011, "month": 9, "date": 5},
                  {"year": 2011, "month": 9, "date": 7}, {"year": 2011, "month": 9, "date": 9}, {"year": 2011, "month": 9, "date": 11},
                  {"year": 2011, "month": 9, "date": 13}, {"year": 2011, "month": 9, "date": 15}
                ],
                "title": ["mtgoxUSD", "UTC – http://bitcoincharts.com"],
                "titleX": 793, "titleAlign": "right", "titleAnchor": null,
                "titleFontSize": 11, "titleFontWeight": "normal", "titleColor": "#333333",
                "titleLineHeight": 16, "titlePadding": 4
              }
            },
            "y": {
              "field": "p", "type": "quantitative",
              "scale": {"domain": [0, 20], "nice": false},
              "axis": {
                "orient": "right", "title": null, "grid": true, "gridColor": "#e4e4e4",
                "values": [0, 2, 4, 6, 8, 10, 12, 14, 16, 18, 20],
                "tickSize": 5, "tickColor": "#aaaaaa", "domainColor": "#cccccc",
                "labelFontSize": 11, "labelColor": "#333333", "labelPadding": 2
              }
            }
          }
        },
        {
          "data": {"name": "trend"},
          "mark": {"type": "line", "color": "#7a1fd0", "strokeWidth": 2},
          "encoding": {
            "x": {"field": "t", "type": "temporal"},
            "y": {"field": "p", "type": "quantitative"}
          }
        },
        {
          "data": {"name": "legend"},
          "transform": [{"filter": "false"}],
          "mark": {"type": "square", "filled": true, "size": 64, "stroke": "#333333", "strokeWidth": 1, "opacity": 1},
          "encoding": {
            "fill": {
              "field": "series", "type": "nominal",
              "scale": {"domain": ["Closing Price: 4.9", "Vol: 3.493K"], "range": ["#0c0c33", "#bdf2bd"]},
              "legend": {
                "title": null, "orient": "top-left", "direction": "horizontal", "offset": 3, "padding": 0,
                "labelFontSize": 11, "labelColor": "#1b3445", "symbolSize": 64, "symbolType": "square",
                "symbolStrokeColor": "#333333", "symbolStrokeWidth": 1, "columnPadding": 11, "labelOffset": 5
              }
            }
          }
        }
      ]
    }
  ],
  "resolve": {"scale": {"y": "independent"}, "axis": {"x": "independent"}}
}
